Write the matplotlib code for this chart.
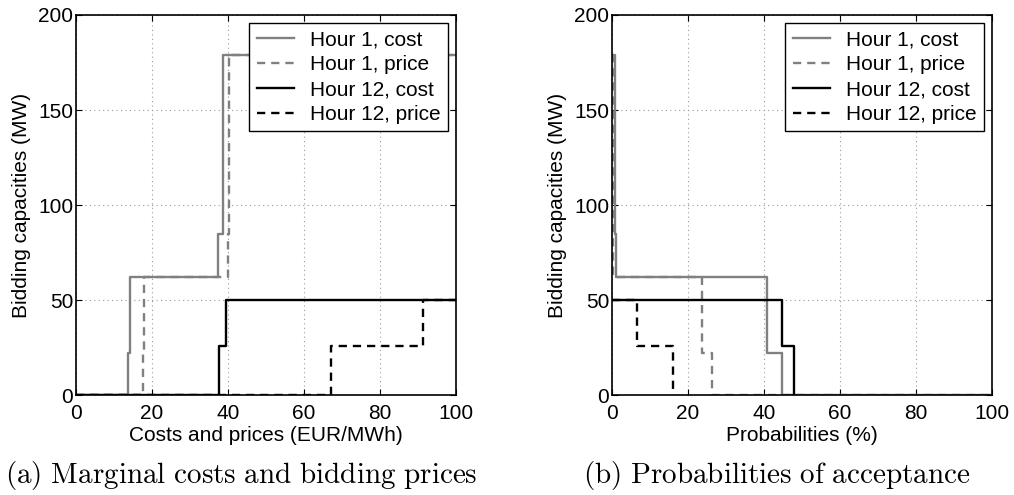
import matplotlib
matplotlib.use('Agg')
import matplotlib.pyplot as plt

plt.rcParams['font.family'] = ['Liberation Sans', 'DejaVu Sans']
plt.rcParams['mathtext.fontset'] = 'cm'

# (a) marginal costs and bidding prices -> cumulative bidding capacity
h1_cost_x = [0, 13.6, 14.2, 37.3, 38.6, 100]
h1_cost_y = [0, 22, 62, 85, 179, 179]
h1_price_x = [0, 17.5, 17.8, 39.9, 40.2, 100]
h1_price_y = [0, 22, 62, 85, 179, 179]
h12_cost_x = [0, 37.7, 39.5, 100]
h12_cost_y = [0, 26, 50, 50]
h12_price_x = [0, 67.2, 91.4, 100]
h12_price_y = [0, 26, 50, 50]

# (b) probabilities of acceptance -> bidding capacity
p1_cost_x = [0.5, 0.8, 1.0, 40.8, 44.8, 100]
p1_cost_y = [179, 85, 62, 22, 0, 0]
p1_price_x = [0, 0.3, 23.7, 26.2, 100]
p1_price_y = [179, 62, 22, 0, 0]
p12_cost_x = [0, 44.8, 48.0]
p12_cost_y = [50, 26, 0]
p12_price_x = [0, 6.6, 16.1]
p12_price_y = [50, 26, 0]

labels = ['Hour 1, cost', 'Hour 1, price', 'Hour 12, cost', 'Hour 12, price']
gray = '#808080'
styles = [(gray, '-'), (gray, (0, (3.5, 2.5))), ('black', '-'), ('black', (0, (3.5, 2.5)))]

fig = plt.figure(figsize=(10.14, 4.95), dpi=100)
ax1 = fig.add_axes([0.0750, 0.2020, 0.3748, 0.7677])
ax2 = fig.add_axes([0.6036, 0.2020, 0.3748, 0.7677])

left_data = [(h1_cost_x, h1_cost_y), (h1_price_x, h1_price_y),
             (h12_cost_x, h12_cost_y), (h12_price_x, h12_price_y)]
right_data = [(p1_cost_x, p1_cost_y), (p1_price_x, p1_price_y),
              (p12_cost_x, p12_cost_y), (p12_price_x, p12_price_y)]

for ax, data, xlabel in [(ax1, left_data, 'Costs and prices (EUR/MWh)'),
                         (ax2, right_data, 'Probabilities (%)')]:
    for (x, y), (c, ls), lab in zip(data, styles, labels):
        ax.plot(x, y, drawstyle='steps-post', color=c, linestyle=ls,
                linewidth=1.7, label=lab)
    ax.set_xlim(0, 100)
    ax.set_ylim(0, 200)
    ax.set_xticks([0, 20, 40, 60, 80, 100])
    ax.set_yticks([0, 50, 100, 150, 200])
    ax.grid(True, linestyle=(0, (1, 3)), color='#999999', linewidth=0.8)
    ax.tick_params(direction='in', length=4, top=True, right=True,
                   labelsize=15)
    ax.tick_params(axis='x', pad=6.5)
    ax.tick_params(axis='y', pad=2)
    ax.set_xlabel(xlabel, fontsize=15, labelpad=2)
    ax.set_ylabel('Bidding capacities (MW)', fontsize=15, labelpad=5)
    for sp in ax.spines.values():
        sp.set_linewidth(1.2)
    leg = ax.legend(loc='upper right', fontsize=15, frameon=True, fancybox=False,
                    edgecolor='black', framealpha=1, handlelength=1.8,
                    labelspacing=0.28, borderpad=0.35, handletextpad=0.75,
                    borderaxespad=0.4)
    leg.get_frame().set_linewidth(1.0)

fig.text(241 / 1014, 1 - 476 / 495,
         r'$\mathrm{(a)\ Marginal\ costs\ and\ bidding\ prices}$',
         fontsize=21, ha='center', va='center')
fig.text(777 / 1014, 1 - 476 / 495,
         r'$\mathrm{(b)\ Probabilities\ of\ acceptance}$',
         fontsize=21, ha='center', va='center')

fig.savefig('out.png', dpi=100)
